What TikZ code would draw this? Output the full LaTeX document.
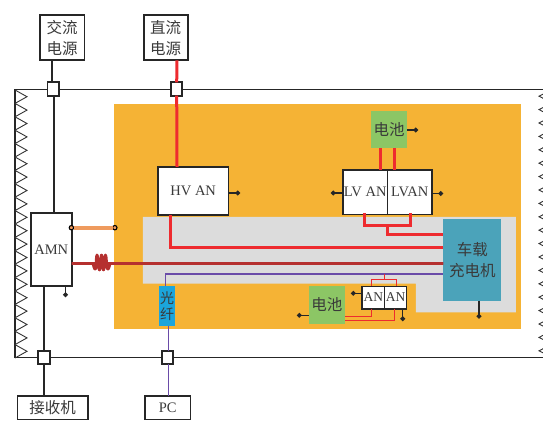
\documentclass[tikz,border=0pt]{standalone}
\usepackage{fontspec}
\setmainfont{Liberation Serif}
\newfontfamily\cjk{Noto Sans CJK SC}
\usetikzlibrary{arrows.meta}
\definecolor{panelorange}{HTML}{F5B335}
\definecolor{panelgray}{HTML}{DCDCDC}
\definecolor{battgreen}{HTML}{8CC665}
\definecolor{chargerteal}{HTML}{4BA3BA}
\definecolor{fiberblue}{HTML}{1BA5DC}
\definecolor{hvred}{HTML}{EE2B2F}
\definecolor{coilred}{HTML}{B5302F}
\definecolor{barorange}{HTML}{EF9B5E}
\definecolor{fiberpurple}{HTML}{6A4BA8}
\definecolor{inkgray}{HTML}{3A3A3A}
\tikzset{
    zhtext/.style={text=inkgray, align=center, font=\cjk\fontsize{15.5}{21}\selectfont},
    entext/.style={text=inkgray, font=\fontsize{14.5}{16}\selectfont},
    blockbox/.style={draw=black!85, line width=1.6pt, fill=white, inner sep=0pt, outer sep=0pt},
    port/.style={blockbox, line width=1.8pt, minimum width=11.3pt, minimum height=13.3pt},
    fillbox/.style={inner sep=0pt, outer sep=0pt},
    stub/.style={line width=1.4pt, black!85, -{Circle[length=4.6pt,width=4.6pt]}},
    wire/.style={line width=1.6pt, black!85},
    hvline/.style={line width=3pt, hvred},
    thinred/.style={line width=1.3pt, hvred},
    fiberline/.style={line width=1.3pt, fiberpurple},
    ring/.style={circle, draw=black, line width=1.1pt, fill=barorange, inner sep=0pt, minimum size=4.4pt, outer sep=0pt},
    tooth/.style={line width=0.9pt, black!80}
}
\begin{document}
\begin{tikzpicture}[x=1pt,y=-1pt]
\useasboundingbox (0,0) rectangle (543,420);
% Panels
\fill[panelorange] (114.3,103.7) rectangle (521,329.4);
\fill[panelgray] (142.8,216.8) -- (515.8,216.8) -- (515.8,312.4) -- (415.8,312.4) -- (415.8,283.6) -- (142.8,283.6) -- cycle;
% Frame
\draw[line width=1.8pt, black!85] (543,89.5) -- (15,89.5) -- (15,357.5) -- (543,357.5);
\foreach \i in {0,...,19} {
    \pgfmathsetmacro\ya{90+13.4*\i}
    \draw[tooth] (15,\ya) -- (27,\ya+6.7) -- (15,\ya+13.4);
}
\begin{scope}
\clip (0,0) rectangle (543,420);
\foreach \i in {0,...,19} {
    \pgfmathsetmacro\ya{89.5+13.4*\i}
    \draw[tooth] (552,\ya) -- (539,\ya+6.7) -- (552,\ya+13.4);
}
\end{scope}
% Sources and ports
\node[blockbox, zhtext, minimum width=44.3pt, minimum height=45pt] (acsrc) at (62.2,37.8) {交流\\电源};
\node[blockbox, zhtext, minimum width=44pt, minimum height=45pt] (dcsrc) at (165.7,37.8) {直流\\电源};
\node[port] (acport) at (53.2,89) {};
\node[port] (dcport) at (176.7,89) {};
\node[port] (rxport) at (44,357.7) {};
\node[port] (pcport) at (167.3,357.7) {};
\node[blockbox, zhtext, minimum width=70.4pt, minimum height=23.3pt] (recv) at (52.5,407.7) {接收机};
\node[blockbox, entext, minimum width=45.7pt, minimum height=23.3pt] (pc) at (167.8,407.7) {PC};
% Blocks
\node[blockbox, entext, minimum width=41pt, minimum height=72.7pt] (amn) at (51.2,249.4) {AMN};
\node[blockbox, entext, minimum width=70.4pt, minimum height=48.4pt] (hvan) at (193.2,191) {HV AN};
\node[blockbox, entext, minimum width=44.6pt, minimum height=44.6pt] (lvl) at (365.2,192) {LV AN};
\node[blockbox, entext, minimum width=44.4pt, minimum height=44.6pt] (lvr) at (409.7,192) {LVAN};
\node[fillbox, fill=battgreen, zhtext, minimum width=36pt, minimum height=37pt] (battop) at (389,129.5) {电池};
\node[fillbox, fill=battgreen, zhtext, minimum width=36.4pt, minimum height=37.7pt] (batlow) at (326.8,304.8) {电池};
\node[fillbox, fill=chargerteal, zhtext, minimum width=58pt, minimum height=81.4pt] (charger) at (472.3,260) {车载\\充电机};
\node[fillbox, fill=fiberblue, zhtext, font=\cjk\fontsize{14}{16}\selectfont, minimum width=15.7pt, minimum height=40pt] (fiber) at (167.2,305.7) {光\\纤};
\node[blockbox, entext, font=\fontsize{13.5}{15}\selectfont, minimum width=22.4pt, minimum height=22.4pt] (anl) at (373.3,297.5) {AN};
\node[blockbox, entext, font=\fontsize{13.5}{15}\selectfont, minimum width=22pt, minimum height=22.4pt] (anr) at (395.5,297.5) {AN};
% Black wires
\draw[wire] ([xshift=-1.2pt]acport.north) -- ([xshift=-10.2pt]acsrc.south);
\draw[wire] ([xshift=0.8pt]acport.south) -- ([xshift=2.8pt]amn.north);
\draw[wire] ([xshift=-7.2pt]amn.south) -- (rxport.north);
\draw[wire] (rxport.south) -- ([xshift=-8.5pt]recv.north);
% Power lines
\draw[hvline] ([xshift=11.3pt]dcsrc.south) -- (dcport.north);
\draw[hvline] (dcport.south) -- ([xshift=-16.2pt]hvan.north);
\draw[hvline] ([xshift=-23.2pt]hvan.south) |- ([yshift=12.3pt]charger.west);
\draw[hvline] ([xshift=-8.5pt]battop.south) -- ([xshift=15.3pt]lvl.north);
\draw[hvline] ([xshift=5.7pt]battop.south) -- ([xshift=-15pt]lvr.north);
\coordinate (lvbus) at (387,225);
\draw[hvline, line cap=rect] ([xshift=-0.9pt]lvl.south) |- (lvbus) -| ([xshift=0.3pt]lvr.south);
\draw[hvline] (lvbus) |- ([yshift=25.3pt]charger.west);
% Coil line
\coordinate (coilin) at (93,263.5);
\coordinate (coilout) at (110,263.5);
\draw[line width=2.8pt, coilred] ([yshift=-14pt]amn.east) -- (coilin) -- ([yshift=-3.5pt]charger.west);
\draw[line width=2.8pt, coilred, line join=round] plot[smooth, tension=0.8] coordinates {(coilin) (95.5,269) (97,255) (99.5,270) (101.5,255) (103.5,270) (105.5,255) (107.5,269) (coilout)};
% Bar with rings
\node[ring] (barl) at (71.4,227.7) {};
\node[ring] (barr) at (114.8,227.7) {};
\draw[line width=3.8pt, barorange] (barl) -- (barr);
% Fiber
\draw[fiberline] ([xshift=-1.7pt]fiber.north) |- ([yshift=-14pt]charger.west);
\draw[fiberline] ([xshift=1.3pt]fiber.south) -- ([xshift=1.2pt]pcport.north);
\draw[fiberline] ([xshift=1.2pt]pcport.south) -- ([xshift=0.7pt]pc.north);
% Thin red lines
\coordinate (anbus) at (384.5,279.3);
\coordinate (antap) at (384.5,274);
\draw[thinred] ([xshift=-1.6pt]anl.north) |- (anbus) -| ([xshift=1.2pt]anr.north);
\draw[thinred] (anbus) -- (antap);
\draw[thinred] ([xshift=-1.6pt]anl.south) |- ([yshift=-11.9pt]batlow.east);
\draw[thinred] ([xshift=-0.8pt]anr.south) |- ([yshift=-15.9pt]batlow.east);
% Dotted stubs
\coordinate (hvdot) at (240,193);
\coordinate (lvldot) at (331,193);
\coordinate (lvrdot) at (443,193.5);
\coordinate (batdot) at (418,130);
\coordinate (lowdot) at (297,315.3);
\coordinate (andot) at (351,293.3);
\coordinate (anrdot) at (402.7,321);
\coordinate (chgdot) at (479,318.5);
\coordinate (amndot) at (65.5,297);
\draw[stub] (hvan.east |- hvdot) -- (hvdot);
\draw[stub] (lvl.west |- lvldot) -- (lvldot);
\draw[stub] (lvr.east |- lvrdot) -- (lvrdot);
\draw[stub] (battop.east |- batdot) -- (batdot);
\draw[stub] (batlow.west |- lowdot) -- (lowdot);
\draw[stub] (anl.west |- andot) -- (andot);
\draw[stub] (anr.south -| anrdot) -- (anrdot);
\draw[stub] (charger.south -| chgdot) -- (chgdot);
\draw[stub] (amn.south -| amndot) -- (amndot);
\end{tikzpicture}
\end{document}
